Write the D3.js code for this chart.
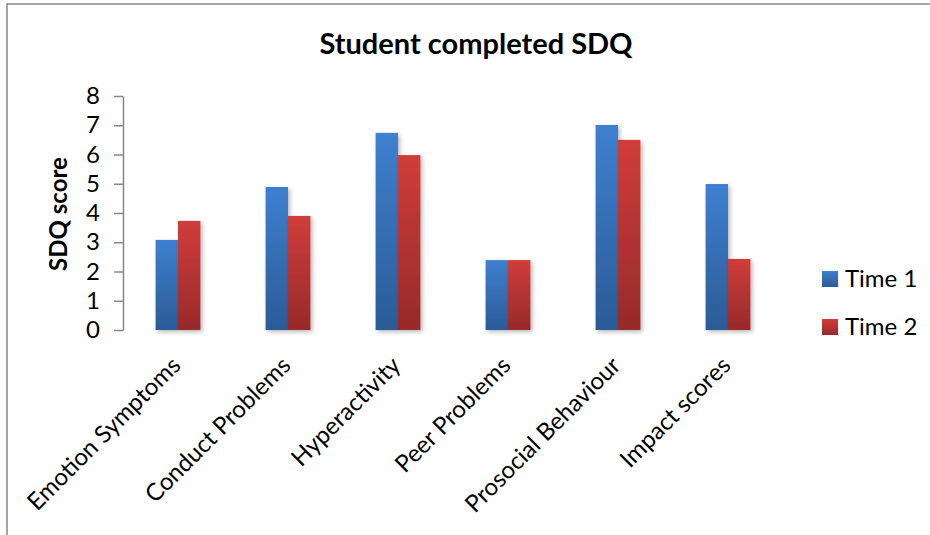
<!DOCTYPE html>
<html>
<head>
<meta charset="utf-8">
<script src="https://cdn.jsdelivr.net/npm/d3@7/dist/d3.min.js"></script>
<style>
  html, body { margin: 0; padding: 0; background: #fff; }
  svg { display: block; }
  text { font-family: Lato, "Open Sans", sans-serif; fill: #000; }
</style>
</head>
<body>
<svg id="chart" width="930" height="535"></svg>
<script>
// SDQ subscale scores, student completed, at two time points
const categories = ["Emotion Symptoms", "Conduct Problems", "Hyperactivity",
                    "Peer Problems", "Prosocial Behaviour", "Impact scores"];
const seriesNames = ["Time 1", "Time 2"];
const time1 = [3.08, 4.89, 6.74, 2.39, 7.01, 4.99];
const time2 = [3.73, 3.90, 5.98, 2.39, 6.50, 2.43];
const yTicks = [0, 1, 2, 3, 4, 5, 6, 7, 8];

const svg = d3.select("#chart");
const W = 930, H = 535;
const plot = { left: 123, right: 783, top: 96, bottom: 330 };

const defs = svg.append("defs");
const grads = [
  { id: "gBlue", top: "#3e80d0", bottom: "#2b5b96" },
  { id: "gRed",  top: "#d03d3a", bottom: "#972a2a" }
];
grads.forEach(g => {
  const lg = defs.append("linearGradient").attr("id", g.id)
    .attr("x1", 0).attr("y1", 0).attr("x2", 0).attr("y2", 1);
  lg.append("stop").attr("offset", "0%").attr("stop-color", g.top);
  lg.append("stop").attr("offset", "100%").attr("stop-color", g.bottom);
});
const shadow = defs.append("filter").attr("id", "shadow")
  .attr("x", "-20%").attr("y", "-20%").attr("width", "160%").attr("height", "160%");
shadow.append("feDropShadow").attr("dx", 2).attr("dy", 2)
  .attr("stdDeviation", 2).attr("flood-color", "#000").attr("flood-opacity", 0.28);

// chart frame (top and left edges)
svg.append("path")
  .attr("d", `M7,${H} L7,4 L${W},4`)
  .attr("fill", "none").attr("stroke", "#878787").attr("stroke-width", 1.5);

// title
svg.append("text")
  .attr("x", 476).attr("y", 54)
  .attr("text-anchor", "middle")
  .style("font-size", "29px").style("font-weight", "bold")
  .text("Student completed SDQ");

// scales
const x0 = d3.scaleBand().domain(categories).range([plot.left, plot.right]).padding(0);
const x1 = d3.scaleBand().domain(seriesNames).range([0, x0.bandwidth()])
  .paddingInner(0).paddingOuter(1.455);
const y = d3.scaleLinear().domain([0, 8]).range([plot.bottom, plot.top]);
const color = d3.scaleOrdinal().domain(seriesNames).range(["url(#gBlue)", "url(#gRed)"]);

const rows = categories.map((c, i) => ({ cat: c, vals: [
  { s: seriesNames[0], v: time1[i] },
  { s: seriesNames[1], v: time2[i] }
]}));

// bars
const groups = svg.append("g").selectAll("g").data(rows).join("g")
  .attr("transform", d => `translate(${x0(d.cat)},0)`);
groups.selectAll("rect").data(d => d.vals).join("rect")
  .attr("x", d => x1(d.s))
  .attr("width", x1.bandwidth())
  .attr("y", d => y(d.v))
  .attr("height", d => y(0) - y(d.v))
  .attr("fill", d => color(d.s))
  .attr("filter", "url(#shadow)");

// y axis
const yAxis = svg.append("g")
  .attr("transform", `translate(${plot.left},0)`)
  .call(d3.axisLeft(y).tickValues(yTicks).tickFormat(d3.format("d"))
        .tickSizeInner(9).tickSizeOuter(0).tickPadding(14));
yAxis.select(".domain").attr("stroke", "#878787").attr("stroke-width", 1.5);
yAxis.selectAll(".tick line").attr("stroke", "#878787").attr("stroke-width", 1.5);
yAxis.selectAll(".tick text")
  .style("font-family", "Lato, 'Open Sans', sans-serif")
  .style("font-size", "24px").attr("fill", "#000");

// x axis baseline
const xAxis = svg.append("g")
  .attr("transform", `translate(0,${plot.bottom})`)
  .call(d3.axisBottom(x0).tickSize(0).tickFormat(""));
xAxis.select(".domain").attr("stroke", "#878787").attr("stroke-width", 2)
  .attr("filter", "url(#shadow)");

// category labels, rotated
svg.append("g").selectAll("text").data(categories).join("text")
  .attr("transform", d => `translate(${x0(d) + x0.bandwidth() / 2 + 4},367) rotate(-45)`)
  .attr("text-anchor", "end")
  .style("font-size", "24px")
  .text(d => d);

// y axis title
svg.append("text")
  .attr("transform", "translate(59,214) rotate(-90)")
  .attr("text-anchor", "middle").attr("dy", "0.35em")
  .style("font-size", "24px").style("font-weight", "bold")
  .text("SDQ score");

// legend
const legend = svg.append("g").selectAll("g").data(seriesNames).join("g")
  .attr("transform", (d, i) => `translate(822,${271 + i * 48})`);
legend.append("rect")
  .attr("width", 16).attr("height", 16)
  .attr("fill", d => color(d));
legend.append("text")
  .attr("x", 23).attr("y", 16)
  .style("font-size", "24px")
  .text(d => d);
</script>
</body>
</html>
